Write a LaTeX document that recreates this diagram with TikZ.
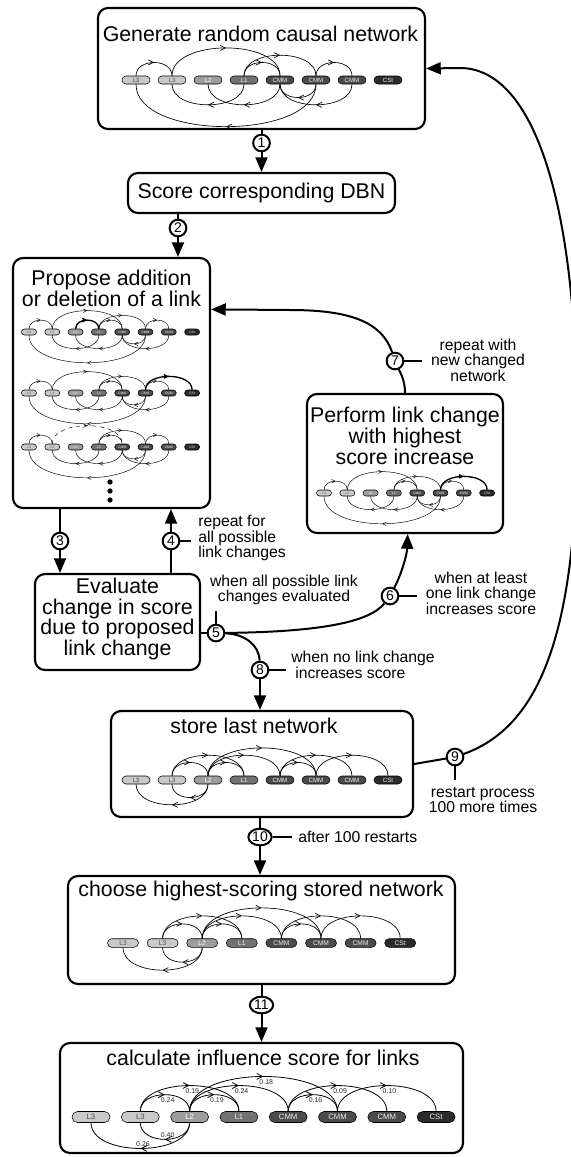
\documentclass[tikz,border=0pt]{standalone}
\usepackage{fontspec}
\setmainfont{Liberation Sans}
\usetikzlibrary{arrows.meta,decorations.markings,shapes.misc,shapes.geometric,calc}
\definecolor{cLa}{HTML}{C9C9C9}
\definecolor{cLb}{HTML}{9D9D9D}
\definecolor{cLc}{HTML}{727272}
\definecolor{cCM}{HTML}{4B4B4B}
\definecolor{cCS}{HTML}{2B2B2B}
\definecolor{txd}{HTML}{505050}
\definecolor{txl}{HTML}{EEEEEE}
\tikzset{
 box/.style={draw, line width=1.6pt, rounded corners=7.5pt, inner sep=0pt},
 ttl/.style={font=\fontsize{16}{15.6}\selectfont, align=center, inner sep=0pt},
 lab/.style={font=\fontsize{11.8}{11.7}\selectfont, align=center, inner sep=0pt},
 circ/.style={circle, draw, line width=1.5pt, fill=white, inner sep=0pt, minimum size=12.5pt, font=\fontsize{10.5}{10.5}\selectfont},
 ovl/.style={ellipse, draw, line width=1.5pt, fill=white, inner sep=0pt, minimum width=17.5pt, minimum height=12.5pt, font=\fontsize{10.5}{10.5}\selectfont},
 conn/.style={line width=1.5pt},
 arr/.style={line width=1.5pt, -{Triangle[length=11pt,width=9pt]}},
 pill/.style={rounded rectangle, draw, line width=0.4pt, inner sep=0pt},
 mk/.style 2 args={postaction={decorate}, decoration={markings, mark=at position 0.5 with {\arrow{Straight Barb[length=#1,width=#2]}}}},
 lnkA/.style={line width=0.5pt, mk={3.8pt}{3.8pt}},
 lnkS/.style={line width=0.35pt, mk={2.6pt}{2.6pt}},
 lnkL/.style={line width=0.6pt, mk={4.4pt}{4.4pt}},
 boldlink/.style={line width=1pt},
 nlab/.style={font=\fontsize{5.2}{5.2}\selectfont, inner sep=0.8pt, text=black!85},
}
\newcommand\NetScale{1}
\newcommand\NetRow[7]{%
 \foreach \i/\lab/\col/\tc in {1/L3/cLa/txd,2/L3/cLa/txd,3/L2/cLb/white,4/L1/cLc/txl,5/CMM/cCM/txl,6/CMM/cCM/txl,7/CMM/cCM/txl,8/CSt/cCS/txl}{%
  \node[pill, fill=\col, text=\tc, minimum width=#5, minimum height=#6, font=\fontsize{#7}{#7}\selectfont] (#1\i) at ({#2+(\i-1)*#4},#3) {\lab};}}
\newcommand\ArcU[4][]{\pgfmathsetmacro\ArcC{\NetScale*(8+9.7*abs(#4-#3))}%
 \draw[#1] (#2#3.north) .. controls +(0,-\ArcC) and +(0,-\ArcC) .. (#2#4.north);}
\newcommand\ArcD[4][]{\pgfmathsetmacro\ArcC{\NetScale*(8+9.7*abs(#4-#3))}%
 \draw[#1] (#2#3.south) .. controls +(0,\ArcC) and +(0,\ArcC) .. (#2#4.south);}
\newcommand\ArcUL[5][]{\pgfmathsetmacro\ArcC{\NetScale*(8+9.7*abs(#4-#3))}%
 \draw[#1] (#2#3.north) .. controls +(0,-\ArcC) and +(0,-\ArcC) .. (#2#4.north) node[nlab, pos=0.5, anchor=north, xshift=2pt, yshift=-1pt] (#2l#3#4) {#5};}
\newcommand\ArcDL[5][]{\pgfmathsetmacro\ArcC{\NetScale*(8+9.7*abs(#4-#3))}%
 \draw[#1] (#2#3.south) .. controls +(0,\ArcC) and +(0,\ArcC) .. (#2#4.south) node[nlab, pos=0.5, anchor=south, xshift=2pt, yshift=0.5pt] (#2l#3#4) {#5};}
\newcommand\NetR[2]{%
 \ArcU[#2]{#1}{1}{2}\ArcU[#2]{#1}{4}{5}\ArcU[#2]{#1}{4}{6}\ArcU[#2]{#1}{6}{7}%
 \ArcD[#2]{#1}{4}{2}\ArcD[#2]{#1}{5}{3}\ArcD[#2]{#1}{6}{1}\ArcD[#2]{#1}{6}{5}\ArcD[#2]{#1}{7}{5}}
\newcommand\NetF[2]{%
 \ArcU[#2]{#1}{2}{3}\ArcU[#2]{#1}{2}{4}\ArcU[#2]{#1}{3}{4}\ArcU[#2]{#1}{3}{5}\ArcU[#2]{#1}{3}{6}\ArcU[#2]{#1}{5}{6}\ArcU[#2]{#1}{5}{7}\ArcU[#2]{#1}{6}{8}%
 \ArcD[#2]{#1}{3}{2}\ArcD[#2]{#1}{3}{1}}
\begin{document}
\begin{tikzpicture}[x=0.75pt,y=-0.75pt]
\useasboundingbox (0,0) rectangle (571,1157);
% boxes
\node[box, minimum width=245.25pt, minimum height=90.75pt] (b1) at (261.5,68.5) {};
\node[box, minimum width=200.25pt, minimum height=30pt] (b2) at (261.5,193) {};
\node[box, minimum width=147.75pt, minimum height=187.5pt] (b3) at (111.5,383) {};
\node[box, minimum width=147pt, minimum height=104.25pt] (b4) at (405,463.5) {};
\node[box, minimum width=123.75pt, minimum height=72pt] (b5) at (117.5,622) {};
\node[box, minimum width=226.5pt, minimum height=79.5pt] (b6) at (262,764) {};
\node[box, minimum width=290.25pt, minimum height=81pt] (b7) at (261.5,930) {};
\node[box, minimum width=302.25pt, minimum height=82.5pt] (b8) at (261.5,1098) {};
% titles
\node[ttl] (t1) at (260.5,34) {Generate random causal network};
\node[ttl] (t2) at (261.5,193) {Score corresponding DBN};
\node[ttl] (t3) at (111.5,288) {Propose addition\\or deletion of a link};
\node[ttl] (t4) at (405,436) {Perform link change\\with highest\\score increase};
\node[ttl] (t5) at (117.5,619) {Evaluate\\change in score\\due to proposed\\link change};
\node[ttl] (t6) at (254,726) {store last network};
\node[ttl] (t7) at (261,891) {choose highest-scoring stored network};
\node[ttl] (t8) at (263,1058) {calculate influence score for links};
% networks
\NetRow{a}{136}{80}{36}{21pt}{6pt}{4.6pt}
\NetR{a}{lnkA}\ArcU[lnkA]{a}{2}{5}
\renewcommand\NetScale{0.65}
\NetRow{p}{29}{332}{23.3}{11.25pt}{4.5pt}{2.5pt}
\NetR{p}{lnkS}\ArcU[lnkS]{p}{2}{5}\ArcU[lnkS,boldlink]{p}{3}{4}
\NetRow{q}{29}{393}{23.3}{11.25pt}{4.5pt}{2.5pt}
\NetR{q}{lnkS}\ArcU[lnkS]{q}{2}{5}\ArcU[lnkS,boldlink]{q}{6}{8}
\NetRow{r}{29}{447}{23.3}{11.25pt}{4.5pt}{2.5pt}
\NetR{r}{lnkS}\ArcU[lnkS,dashed]{r}{2}{5}
\NetRow{w}{324}{493}{23.3}{11.25pt}{4.5pt}{2.5pt}
\NetR{w}{lnkS}\ArcU[lnkS]{w}{2}{5}\ArcU[lnkS,boldlink]{w}{6}{8}
\renewcommand\NetScale{1}
\NetRow{s}{136}{780}{36}{21pt}{6pt}{4.6pt}
\NetF{s}{lnkA}
\renewcommand\NetScale{1.1}
\NetRow{c}{123}{943}{39.6}{23.25pt}{6.4pt}{5pt}
\NetF{c}{lnkA}
\renewcommand\NetScale{1.25}
\NetRow{f}{91}{1117}{49.3}{28.5pt}{8.25pt}{5.8pt}
\ArcUL[lnkL]{f}{2}{3}{0.24}\ArcUL[lnkL]{f}{2}{4}{0.19}\ArcUL[lnkL]{f}{3}{4}{0.19}
\ArcUL[lnkL]{f}{3}{5}{0.24}\ArcUL[lnkL]{f}{3}{6}{0.18}\ArcUL[lnkL]{f}{5}{6}{0.16}
\ArcUL[lnkL]{f}{5}{7}{0.09}\ArcUL[lnkL]{f}{6}{8}{0.10}
\ArcDL[lnkL]{f}{3}{2}{0.40}\ArcDL[lnkL]{f}{3}{1}{0.26}
% dots
\fill (110,482) circle (2pt) (110,491) circle (2pt) (110,500) circle (2pt);
% circles
\node[circ] (c1) at (261.5,143) {1};
\node[circ] (c2) at (178,228) {2};
\node[circ] (c3) at (60,541) {3};
\node[circ] (c4) at (171,541) {4};
\node[circ] (c5) at (216,633) {5};
\node[circ] (c6) at (390,596) {6};
\node[circ] (c7) at (395,361) {7};
\node[circ] (c8) at (260,670) {8};
\node[circ] (c9) at (455,757) {9};
\node[ovl] (c10) at (260,837) {10};
\node[ovl] (c11) at (261.5,1005) {11};
% labels
\node[lab, align=left, anchor=west] (l4) at (198,538) {repeat for\\all possible\\link changes};
\node[lab] (l5) at (284,590) {when all possible link\\changes evaluated};
\node[lab] (l6) at (481,593) {when at least\\one link change\\increases score};
\node[lab] (l7) at (478,360) {repeat with\\new changed\\network};
\node[lab, align=left, anchor=west] (l8) at (291,665) {when no link change\\\hspace*{3pt}increases score};
\node[lab] (l9) at (483,800) {restart process\\100 more times};
\node[lab, anchor=west] (l10) at (298,837) {after 100 restarts};
% connectors
\draw[conn] (b1.south) -- (c1);
\draw[arr] (c1) -- (b2.north);
\draw[conn] (c2 |- b2.south) -- (c2);
\draw[arr] (c2) -- (c2 |- b3.north);
\draw[conn] (c3 |- b3.south) -- (c3);
\draw[arr] (c3) -- (c3 |- b5.north);
\draw[conn] (c4 |- b5.north) -- (c4);
\draw[arr] (c4) -- (c4 |- b3.south);
\draw[conn] (b5.east |- c5) -- (c5);
\draw[conn] (c5) .. controls (320,632) and (370,622) .. (c6);
\draw[arr] (c6) .. controls (401,575) and (407,555) .. ([xshift=2pt]b4.south);
\draw[conn] (c5) .. controls (245,634) and (259,645) .. (c8);
\draw[arr] (c8) -- (c8 |- b6.north);
\draw[conn] (b4.north) .. controls (405,380) and (400,372) .. (c7);
\draw[arr] (c7) .. controls (382,322) and (350,310) .. (290,310) -- ($(b3.north east)!0.208!(b3.south east)$);
\draw[conn] (b6.east) -- (c9);
\draw[arr] (c9) .. controls (545,725) and (578,620) .. (577,420) .. controls (576,190) and (530,68) .. (460,68) -- (b1.east);
\draw[conn] (c10 |- b6.south) -- (c10);
\draw[arr] (c10) -- (c10 |- b7.north);
\draw[conn] (b7.south) -- (c11);
\draw[arr] (c11) -- (c11 |- b8.north);
% ticks
\draw[conn] (c4.east) -- ++(11,0);
\draw[conn] (c5.north) -- ++(0,-13);
\draw[conn] (c6.east) -- ++(18,0);
\draw[conn] (c7.east) -- ++(18,0);
\draw[conn] (c8.east) -- ++(17,0);
\draw[conn] (c9.south) -- ++(0,14);
\draw[conn] (c10.east) -- ++(19,0);
\end{tikzpicture}
\end{document}
